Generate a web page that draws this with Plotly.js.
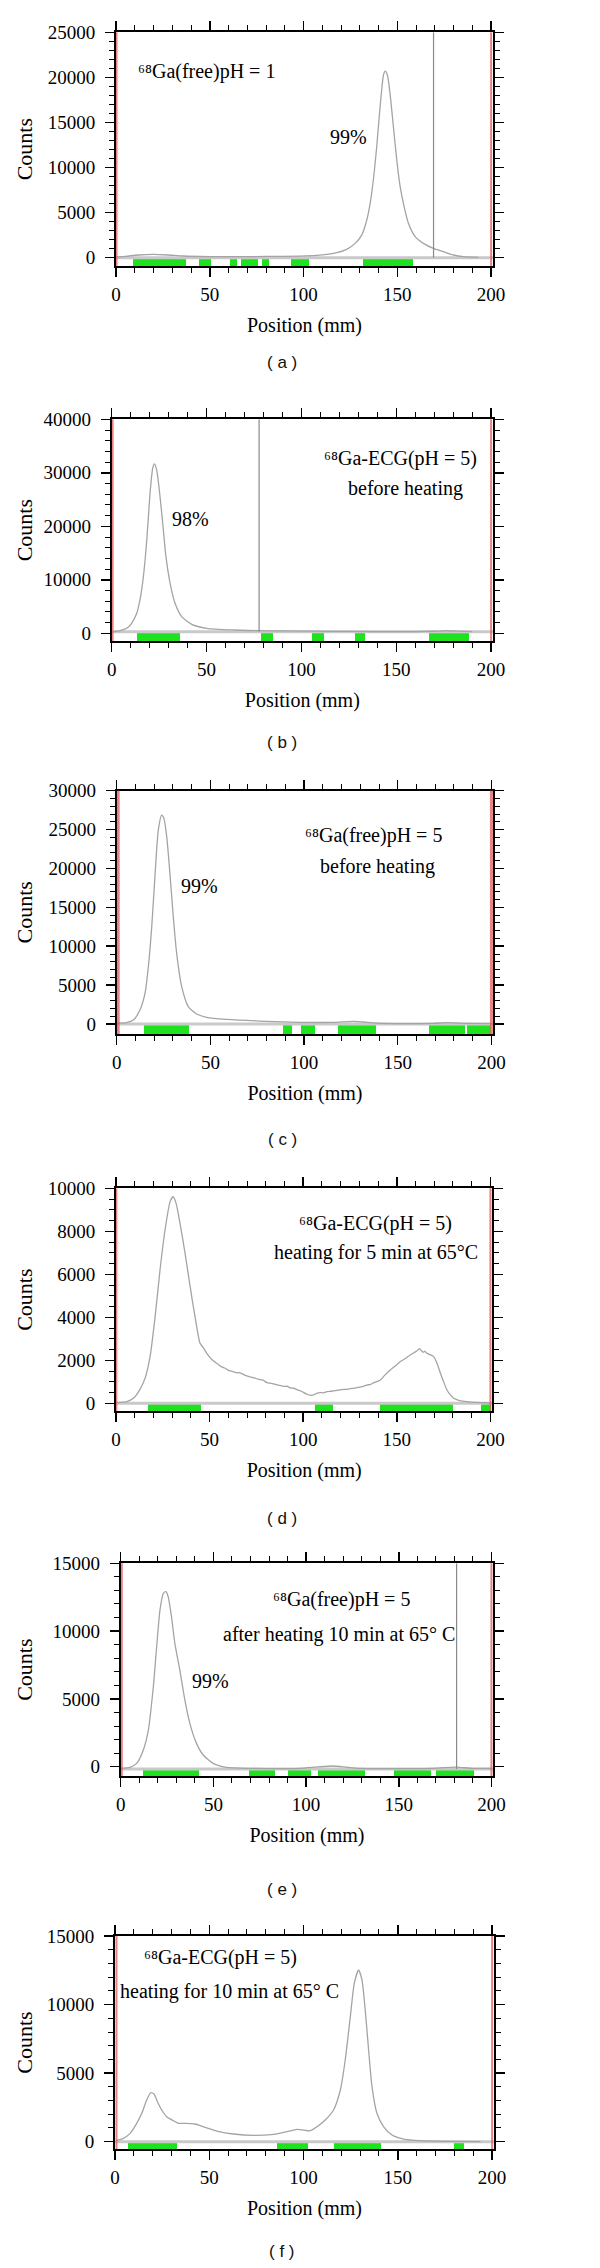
<!DOCTYPE html>
<html>
<head>
<meta charset="utf-8">
<script src="https://cdn.plot.ly/plotly-3.0.1.min.js"></script>
<style>
html,body{margin:0;padding:0;background:#fff;}
#chart{width:600px;height:2268px;}
</style>
</head>
<body>
<div id="chart"></div>
<script>
// ---------------- DATA ----------------
// Panel (a) 68Ga(free) pH = 1
const posA = [0, 5, 12, 20, 28, 36, 50, 62.6, 80, 98, 107, 116, 123, 127.5, 131, 133.7, 135.5, 137.2, 139, 140.8, 142.6, 143.5, 144.7, 146.1, 147.9, 149.7, 151.5, 153.6, 155.9, 159.5, 163.9, 169.2, 174.6, 179.9, 185.2, 193.2];
const cntA = [80, 150, 300, 370, 300, 190, 130, 110, 140, 185, 260, 480, 925, 1590, 2500, 4180, 6030, 8620, 12300, 16750, 20260, 20700, 20260, 18230, 14530, 10830, 7880, 5660, 3810, 2330, 1590, 1035, 665, 300, 110, 40];
const greenA = [[8.9, 37.2], [44.4, 50.5], [60.8, 64.7], [66.5, 75.6], [77.7, 81.8], [93.2, 102.9], [131.6, 158.2]];
const baselineA = 0;
const markerA = [169.3];

// Panel (b) 68Ga-ECG pH = 5 before heating
const posB = [0.9, 4.4, 7.9, 10.5, 13.2, 14.9, 16.7, 18.5, 20.2, 21.6, 22.5, 23.7, 25.1, 26.9, 28.6, 30.8, 33.4, 36.9, 42.2, 50.1, 64.1, 77.7, 90.5, 116.9, 139.7, 160, 170, 176, 182, 190];
const cntB = [310, 500, 935, 1870, 3740, 6230, 10600, 17440, 26170, 30840, 31650, 30530, 26790, 20560, 14330, 9345, 5600, 3115, 1680, 935, 620, 500, 435, 375, 330, 320, 380, 480, 400, 320];
const greenB = [[13.2, 36.2], [78.7, 84.9], [105.5, 112.1], [128.3, 133.6], [167.5, 188.6]];
const baselineB = 300;
const markerB = [77.7];

// Panel (c) 68Ga(free) pH = 5 before heating
const posC = [0.4, 5.3, 8.9, 12.4, 15.1, 16.9, 18.7, 20.4, 22.2, 24, 25.2, 26.7, 28.4, 30.2, 32, 34.7, 38.2, 42.7, 48, 58.7, 80, 97.8, 115.6, 126.2, 131.6, 142.2, 168.9, 176, 186.7, 200];
const cntC = [86, 170, 510, 1800, 3940, 7370, 12510, 18940, 24940, 26870, 26440, 24090, 19370, 13800, 9090, 4800, 2230, 1290, 857, 600, 343, 214, 214, 343, 257, 86, 86, 170, 86, 43];
const greenC = [[14.6, 38.6], [88.9, 93.3], [98.1, 105.8], [118.2, 138.3], [166.6, 186.1], [186.7, 200]];
const baselineC = 0;
const markerC = [];

// Panel (d) 68Ga-ECG pH = 5 heating 5 min at 65 C
const posD = [0, 5.7, 9.3, 12.8, 15.5, 18.2, 20.9, 23.5, 26.2, 28.9, 30.5, 32.1, 34.2, 36.9, 39.6, 42.2, 44.9, 46.5, 48.5, 51, 53.8, 56, 58, 60.5, 62.7, 64.5, 66, 69, 71.7, 74, 76, 78.5, 80.6, 83, 85, 87.5, 89.5, 91.5, 93, 95, 96.6, 99, 102, 104, 105.5, 107.5, 109, 111, 112.7, 115, 118, 120.5, 123.4, 126, 128, 131, 134, 136, 138, 140, 141.2, 143.5, 146.5, 149, 151.9, 154.5, 157.2, 159, 160, 161, 162.2, 163, 164, 165, 166.1, 168, 169.7, 171.5, 173.3, 175, 176.8, 178.5, 180.4, 183.5, 187.5, 193, 200];
const cntD = [31, 78, 233, 650, 1160, 2170, 4030, 6200, 8060, 9380, 9610, 9300, 8370, 6975, 5425, 4030, 2790, 2600, 2325, 2050, 1860, 1720, 1640, 1520, 1470, 1420, 1430, 1300, 1230, 1180, 1120, 1080, 960, 930, 880, 830, 790, 790, 720, 700, 640, 560, 420, 370, 390, 470, 500, 490, 540, 560, 600, 640, 650, 690, 720, 760, 850, 880, 970, 1030, 1085, 1300, 1550, 1720, 1940, 2080, 2250, 2340, 2400, 2460, 2540, 2460, 2380, 2420, 2325, 2250, 2170, 1850, 1395, 1000, 620, 400, 233, 130, 78, 40, 15];
const greenD = [[17, 45.5], [106.4, 115.9], [141.2, 180.1], [194.7, 200.5]];
const baselineD = 0;
const markerD = [];

// Panel (e) 68Ga(free) pH = 5 after heating 10 min at 65 C
const posE = [0, 5, 8.6, 12.2, 14.9, 17.6, 19.4, 21.2, 23, 24.4, 25.6, 27.4, 29.2, 31.9, 34.6, 37.3, 40.9, 44.5, 49.9, 57, 69.6, 96.5, 106, 114.4, 122, 128.8, 168.3, 180.8, 189.8, 200];
const cntE = [-120, -50, 245, 1230, 2700, 5900, 8850, 11560, 12790, 12910, 12540, 11070, 9100, 7130, 4920, 3200, 1720, 860, 245, -50, -120, -120, -20, 50, -40, -120, -120, -25, -120, -120];
const greenE = [[12.2, 42.3], [69.2, 83.2], [90.4, 102.8], [106.7, 131.9], [147.3, 167.6], [170.1, 190.7]];
const baselineE = -170;
const markerE = [181.2];

// Panel (f) 68Ga-ECG pH = 5 heating 10 min at 65 C
const posF = [0.5, 4.4, 8, 11.5, 14.2, 16.8, 18.9, 20.7, 22.5, 24.8, 27.4, 31, 33.6, 38.1, 42.5, 46.9, 54, 62.8, 73.5, 84.1, 91.2, 96.5, 100, 103.5, 107.1, 111.5, 115.9, 119.5, 122.1, 124.8, 126.9, 129.2, 131, 132.7, 134.5, 136.3, 138.9, 142.5, 146.9, 153.1, 162, 177.9, 193.8];
const cntF = [73, 243, 610, 1340, 2070, 3040, 3570, 3480, 2920, 2310, 1820, 1530, 1340, 1340, 1290, 1090, 780, 560, 460, 535, 730, 900, 850, 800, 1090, 1580, 2310, 3770, 5960, 9120, 11550, 12520, 11790, 9600, 6690, 4010, 2070, 1090, 490, 195, 73, 24, 0];
const greenF = [[6.7, 32.7], [85.8, 102.6], [116.1, 141.2], [180, 184.9]];
const baselineF = 0;
const markerF = [];

const tickValsX = [0, 50, 100, 150, 200];

// ---------------- LAYOUT / STYLE ----------------
const W = 600, H = 2268;
const SERIF = '"Liberation Serif", "Times New Roman", Times, serif';
const SANS = '"Liberation Sans", Arial, Helvetica, sans-serif';
const GREEN = '#1fe21f';
const CURVE = '#a4a4a4';
const BASE = '#c9c9c9';
const REDLINE = 'rgba(226,90,90,0.75)';
const GREYMARK = '#8a8a8a';

const panels = [
  {label: '( a )', pos: posA, cnt: cntA, green: greenA, base: baselineA, marker: markerA,
   box: {l: 116, r: 493, t: 32.3, b: 266}, yr: [-920, 25000], dt: 5000, mdt: 1000,
   red: [0.3, 200], redW: 2, labelY: 363,
   notes: [
     {text: '⁶⁸Ga(free)pH = 1', x: 10.7, y: 20630, xa: 'left'},
     {text: '99%', x: 123.9, y: 13420, xa: 'center'}
   ]},
  {label: '( b )', pos: posB, cnt: cntB, green: greenB, base: baselineB, marker: markerB,
   box: {l: 111.7, r: 493, t: 419.3, b: 641}, yr: [-1440, 40000], dt: 10000, mdt: 2000,
   red: [0.5, 200], redW: 2, labelY: 742,
   notes: [
     {text: '⁶⁸Ga-ECG(pH = 5)', x: 152, y: 32700, xa: 'center'},
     {text: 'before heating', x: 155, y: 27100, xa: 'center'},
     {text: '98%', x: 41.3, y: 21300, xa: 'center'}
   ]},
  {label: '( c )', pos: posC, cnt: cntC, green: greenC, base: baselineC, marker: markerC,
   box: {l: 116.7, r: 493.3, t: 790.7, b: 1034}, yr: [-1286, 30000], dt: 5000, mdt: 1000,
   red: [0.8, 200], redW: 3, labelY: 1139,
   notes: [
     {text: '⁶⁸Ga(free)pH = 5', x: 136.9, y: 24300, xa: 'center'},
     {text: 'before heating', x: 139.2, y: 20230, xa: 'center'},
     {text: '99%', x: 44.4, y: 17740, xa: 'center'}
   ]},
  {label: '( d )', pos: posD, cnt: cntD, green: greenD, base: baselineD, marker: markerD,
   box: {l: 116, r: 492.3, t: 1188.3, b: 1411}, yr: [-358, 10000], dt: 2000, mdt: 500,
   red: [0.2, 200], redW: 2, labelY: 1518,
   notes: [
     {text: '⁶⁸Ga-ECG(pH = 5)', x: 138.5, y: 8370, xa: 'center'},
     {text: 'heating for 5 min at 65°C', x: 139, y: 7000, xa: 'center'}
   ]},
  {label: '( e )', pos: posE, cnt: cntE, green: greenE, base: baselineE, marker: markerE,
   box: {l: 120.7, r: 493.3, t: 1563.3, b: 1776}, yr: [-686, 15000], dt: 5000, mdt: 1000,
   red: [0.6, 200], redW: 2, labelY: 1889,
   notes: [
     {text: '⁶⁸Ga(free)pH = 5', x: 118.9, y: 12300, xa: 'center'},
     {text: 'after heating 10 min at 65° C', x: 117.7, y: 9760, xa: 'center'},
     {text: '99%', x: 48.4, y: 6340, xa: 'center'}
   ]},
  {label: '( f )', pos: posF, cnt: cntF, green: greenF, base: baselineF, marker: markerF,
   box: {l: 115, r: 494, t: 1936, b: 2149}, yr: [-532, 15000], dt: 5000, mdt: 1000,
   red: [0.8, 200], redW: 2, labelY: 2251,
   notes: [
     {text: '⁶⁸Ga-ECG(pH = 5)', x: 55.8, y: 13440, xa: 'center'},
     {text: 'heating for 10 min at 65° C', x: 60.7, y: 10940, xa: 'center'}
   ]}
];

const traces = [];
const shapes = [];
const annotations = [];
const layout = {
  width: W, height: H,
  margin: {l: 0, r: 0, t: 0, b: 0},
  paper_bgcolor: '#ffffff', plot_bgcolor: '#ffffff',
  showlegend: false, barmode: 'overlay', bargap: 0,
  font: {family: SERIF, size: 19, color: '#000'},
  shapes: shapes, annotations: annotations
};

const axisCommon = {
  showline: true, linecolor: '#000', linewidth: 2, mirror: 'allticks',
  ticks: 'outside', ticklen: 9, tickwidth: 1.5, tickcolor: '#000',
  showgrid: false, zeroline: false, fixedrange: true, automargin: false,
  tickfont: {family: SERIF, size: 19, color: '#000'}
};

panels.forEach((p, i) => {
  const n = i === 0 ? '' : String(i + 1);
  const xa = 'x' + n, ya = 'y' + n;
  const ymin = p.yr[0];

  // green lanes
  traces.push({
    type: 'bar', xaxis: xa, yaxis: ya, hoverinfo: 'skip',
    x: p.green.map(g => (g[0] + g[1]) / 2),
    width: p.green.map(g => g[1] - g[0]),
    base: p.green.map(() => ymin),
    y: p.green.map(() => p.base - ymin),
    marker: {color: GREEN, line: {width: 0}}
  });
  // baseline strip
  traces.push({
    type: 'scatter', mode: 'lines', xaxis: xa, yaxis: ya, hoverinfo: 'skip',
    x: [0, 201], y: [p.base, p.base],
    line: {color: BASE, width: 3}
  });
  // counts curve
  traces.push({
    type: 'scatter', mode: 'lines', xaxis: xa, yaxis: ya,
    x: p.pos, y: p.cnt,
    line: {color: CURVE, width: 1.3, shape: 'spline', smoothing: 0.6}
  });

  p.red.forEach(xv => shapes.push({
    type: 'line', xref: xa, yref: ya + ' domain', x0: xv, x1: xv, y0: 0, y1: 1,
    line: {color: REDLINE, width: p.redW}, layer: 'above'
  }));
  p.marker.forEach(xv => shapes.push({
    type: 'line', xref: xa, yref: ya, x0: xv, x1: xv, y0: p.base, y1: p.yr[1],
    line: {color: GREYMARK, width: 1.2}, layer: 'above'
  }));

  const minorY = [];
  for (let v = p.mdt; v < p.yr[1]; v += p.mdt) if (v % p.dt !== 0) minorY.push(v);

  layout['xaxis' + n] = Object.assign({}, axisCommon, {
    domain: [p.box.l / W, p.box.r / W], range: [0, 201], anchor: ya,
    tickmode: 'array', tickvals: tickValsX, ticktext: tickValsX.map(String),
    ticklabelstandoff: 1,
    title: {text: 'Position (mm)', standoff: 14, font: {family: SERIF, size: 20, color: '#000'}},
    minor: {dtick: 10, tick0: 0, ticks: 'outside', ticklen: 5, tickwidth: 1, tickcolor: '#000', showgrid: false}
  });
  layout['yaxis' + n] = Object.assign({}, axisCommon, {
    domain: [1 - p.box.b / H, 1 - p.box.t / H], range: p.yr, anchor: xa,
    tick0: 0, dtick: p.dt, tickformat: 'd', ticklabelstandoff: 6,
    title: {text: 'Counts', standoff: Math.max(0, p.box.l - 27 - 80), font: {family: SERIF, size: 22, color: '#000'}},
    minor: {tickmode: 'array', tickvals: minorY, ticks: 'outside', ticklen: 5, tickwidth: 1, tickcolor: '#000', showgrid: false}
  });

  // panel label
  annotations.push({
    xref: 'paper', yref: 'paper', x: 282 / W, y: 1 - p.labelY / H,
    text: p.label, showarrow: false, xanchor: 'center', yanchor: 'middle',
    font: {family: SANS, size: 17, color: '#111'}
  });
  // in-plot notes
  p.notes.forEach(nt => annotations.push({
    xref: xa, yref: ya, x: nt.x, y: nt.y, text: nt.text, showarrow: false,
    xanchor: nt.xa, yanchor: 'middle',
    font: {family: SERIF, size: 20, color: '#000'}
  }));
});

Plotly.newPlot('chart', traces, layout, {staticPlot: true, displayModeBar: false});
</script>
</body>
</html>
